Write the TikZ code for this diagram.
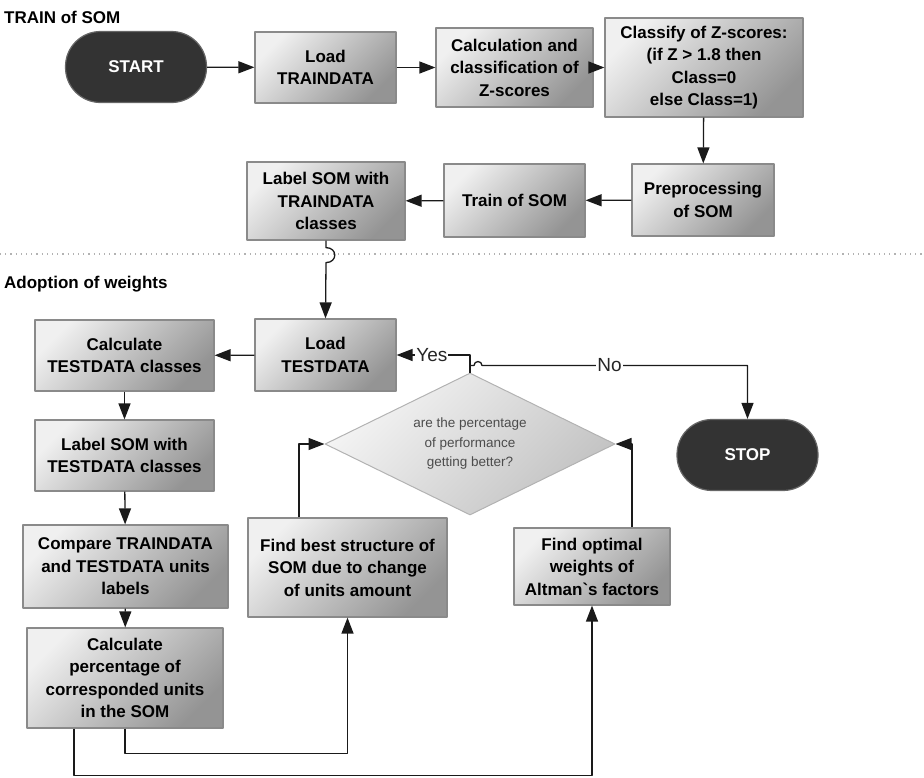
\documentclass[tikz,border=0pt]{standalone}
\usepackage{fontspec}
\setmainfont{Liberation Sans}
\usetikzlibrary{arrows.meta,shapes.geometric}
\definecolor{boxedge}{HTML}{8A8A8A}
\definecolor{termfill}{HTML}{333333}
\definecolor{wire}{HTML}{1A1A1A}
\begin{document}
\begin{tikzpicture}[x=1pt, y=-1pt, line join=round, >={Triangle[length=16pt,width=12pt]},
	proc/.style 2 args={draw=boxedge, line width=1.2pt, top color=black!6, bottom color=black!42, shading angle=45,
		minimum width=#1pt, minimum height=#2pt, inner sep=0pt, align=center, font=\fontsize{17}{22.5}\selectfont\bfseries},
	term/.style={draw=black!60, line width=1.2pt, fill=termfill, text=white, rounded corners=35pt,
		minimum width=141pt, minimum height=71pt, font=\fontsize{17}{20}\selectfont\bfseries},
	dec/.style={diamond, aspect=2, draw=black!30, line width=1pt, top color=black!4, bottom color=black!24, shading angle=45,
		minimum width=290pt, minimum height=142pt, inner sep=0pt, align=center, text=black!70, font=\fontsize{13.5}{19.5}\selectfont},
	conn/.style={->, draw=wire, line width=1.3pt},
	lab/.style={fill=white, inner sep=1pt, text=black!85, font=\fontsize{19}{20}\selectfont},
	ttl/.style={inner sep=0pt, font=\fontsize{17}{20}\selectfont\bfseries}]
	\useasboundingbox (0,0) rectangle (924,777);
	% titles and separator
	\node[ttl, anchor=west] (ttrain) at (4,17) {TRAIN of SOM};
	\node[ttl, anchor=west] (tadopt) at (4,284) {Adoption of weights};
	\path (0,254) coordinate (sepw) (924,254) coordinate (sepe);
	\draw[black!30, line width=1.2pt, dash pattern=on 1.2pt off 4pt] (sepw)--(sepe);
	% train of SOM
	\node[term] (start) at (136,67) {START};
	\node[proc={141}{71}] (loadtrain) at (325.5,67.5) {Load\\TRAINDATA};
	\node[proc={157}{79}] (calc) at (514.5,67.5) {Calculation and\\classification of\\Z-scores};
	\node[proc={198}{99}] (classify) at (704,67.5) {Classify of Z-scores:\\(if Z > 1.8 then\\Class=0\\else Class=1)};
	\node[proc={142}{72}] (prep) at (703,200) {Preprocessing\\of SOM};
	\node[proc={141}{73}] (trainsom) at (514.5,200.5) {Train of SOM};
	\node[proc={158}{78}] (labeltrain) at (326,201) {Label SOM with\\TRAINDATA\\classes};
	% adoption of weights
	\node[proc={141}{72}] (loadtest) at (325.5,355) {Load\\TESTDATA};
	\node[proc={179}{71}] (calctest) at (124.5,355.5) {Calculate\\TESTDATA classes};
	\node[proc={179}{71}] (labeltest) at (124.5,455.5) {Label SOM with\\TESTDATA classes};
	\node[proc={205}{83}] (compare) at (125.5,566.5) {Compare TRAINDATA\\and TESTDATA units\\labels};
	\node[proc={196}{100}] (percent) at (125,678) {Calculate\\percentage of\\corresponded units\\in the SOM};
	\node[proc={199}{99}] (findbest) at (347.5,567.5) {Find best structure of\\SOM due to change\\of units amount};
	\node[proc={156}{77}] (findopt) at (592,566.5) {Find optimal\\weights of\\Altman\textasciigrave s factors};
	\node[dec] (dia) at (470,444) {are the percentage\\of performance\\getting better?};
	\node[term] (stop) at (747.5,455) {STOP};
	% connectors
	\foreach \a/\b in {start/loadtrain, loadtrain/calc, calc/classify, classify/prep, prep/trainsom, trainsom/labeltrain,
		loadtest/calctest, calctest/labeltest, labeltest/compare, compare/percent}
	\draw[conn] (\a)--(\b);
	\draw[conn] (labeltrain.south) -- ++(0,7) to[out=0,in=0,looseness=2] ++(0,15) -- (loadtest.north);
	\draw[conn] (dia.north) |- node[lab, pos=0.76] (yes) {Yes} (loadtest.east);
	\draw[conn] (dia.north) -- ++(0,-7) -- ++(4,0) arc[start angle=180, end angle=360, radius=4]
		-| node[lab, pos=0.24] (no) {No} (stop.north);
	\draw[conn] (percent.south) -- ++(0,25) -| (findbest.south);
	\draw[conn] ([xshift=-51pt]percent.south) -- ++(0,47) -| (findopt.south);
	\draw[conn] ([xshift=-48.5pt]findbest.north) |- (dia.west);
	\draw[conn] ([xshift=40pt]findopt.north) |- (dia.east);
\end{tikzpicture}
\end{document}
